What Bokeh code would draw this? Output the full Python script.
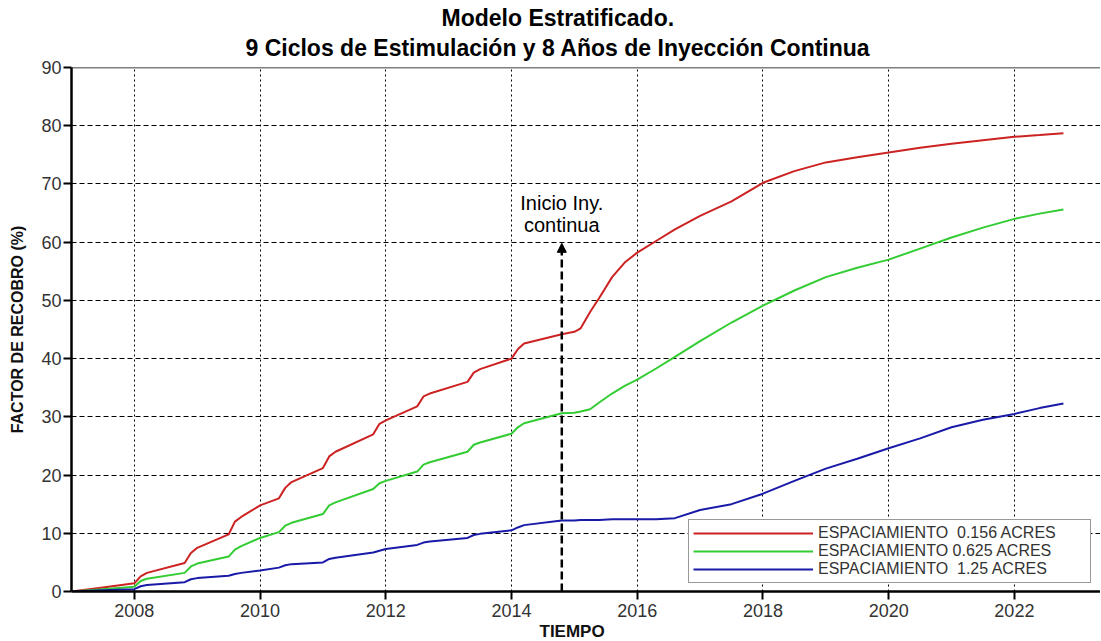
from bokeh.plotting import figure
from bokeh.models import (Range1d, FixedTicker, Span, Label, Arrow, NormalHead,
                          Legend, LegendItem, Title)
from bokeh.embed import file_html
from bokeh.resources import INLINE

# ---- data ----
t = [2007.0, 2007.5, 2008.0, 2008.1, 2008.2, 2008.8, 2008.9, 2009.0, 2009.5, 2009.6,
     2009.7, 2010.0, 2010.3, 2010.4, 2010.5, 2011.0, 2011.1, 2011.2, 2011.8, 2011.9,
     2012.0, 2012.5, 2012.6, 2012.7, 2013.3, 2013.4, 2013.5, 2014.0, 2014.1, 2014.2,
     2014.8, 2015.0, 2015.1, 2015.25, 2015.4, 2015.6, 2015.8, 2016.0, 2016.3, 2016.6,
     2017.0, 2017.5, 2018.0, 2018.5, 2019.0, 2019.5, 2020.0, 2020.5, 2021.0, 2021.5,
     2022.0, 2022.4, 2022.78]
fr_0156 = [0, 0.7, 1.4, 2.6, 3.2, 4.9, 6.6, 7.5, 9.8, 12.0,
           12.8, 14.8, 16.0, 17.8, 18.8, 21.2, 23.2, 24.0, 27.0, 28.8,
           29.4, 31.8, 33.5, 34.0, 36.0, 37.6, 38.2, 40.0, 41.6, 42.6,
           44.2, 44.6, 45.2, 48.0, 50.5, 54.0, 56.5, 58.2, 60.2, 62.2,
           64.5, 67.0, 70.2, 72.2, 73.7, 74.6, 75.4, 76.2, 76.9, 77.5,
           78.1, 78.4, 78.7]
fr_0625 = [0, 0.4, 0.8, 1.8, 2.2, 3.2, 4.3, 4.8, 6.0, 7.2,
           7.8, 9.2, 10.2, 11.3, 11.8, 13.3, 14.8, 15.3, 17.6, 18.6,
           19.0, 20.6, 21.8, 22.2, 24.0, 25.2, 25.6, 27.1, 28.2, 28.9,
           30.6, 30.7, 30.9, 31.3, 32.5, 34.0, 35.3, 36.4, 38.3, 40.3,
           43.0, 46.2, 49.1, 51.7, 54.0, 55.6, 57.0, 58.9, 60.8, 62.5,
           64.0, 64.9, 65.6]
fr_125 = [0, 0.2, 0.4, 0.9, 1.1, 1.6, 2.1, 2.3, 2.7, 3.0,
          3.2, 3.6, 4.1, 4.5, 4.7, 5.0, 5.6, 5.8, 6.7, 7.0,
          7.3, 8.0, 8.4, 8.6, 9.2, 9.7, 9.9, 10.5, 11.0, 11.4,
          12.2, 12.2, 12.3, 12.3, 12.3, 12.4, 12.4, 12.4, 12.4, 12.6,
          14.0, 15.0, 16.8, 19.0, 21.1, 22.8, 24.6, 26.3, 28.2, 29.5,
          30.5, 31.5, 32.3]
series_labels = ["ESPACIAMIENTO  0.156 ACRES", "ESPACIAMIENTO 0.625 ACRES",
                 "ESPACIAMIENTO  1.25 ACRES"]
x_ticks = [2008, 2010, 2012, 2014, 2016, 2018, 2020, 2022]
y_ticks = [0, 10, 20, 30, 40, 50, 60, 70, 80, 90]
title_lines = ["Modelo Estratificado.",
               "9 Ciclos de Estimulación y 8 Años de Inyección Continua"]
x_label = "TIEMPO"
y_label = "FACTOR DE RECOBRO (%)"
annot_lines = ["Inicio Iny.", "continua"]
inj_start = 2014.8
arrow_top = 59.8

FONT = "Liberation Sans"

p = figure(width=1100, height=640, output_backend="svg", toolbar_location=None,
           x_range=Range1d(2007, 2023.37), y_range=Range1d(0, 90),
           min_border_left=71, min_border_right=0, min_border_top=67,
           min_border_bottom=49)
p.outline_line_color = None
p.background_fill_color = "white"
p.border_fill_color = "white"

for ax in (p.xaxis[0], p.yaxis[0]):
    ax.axis_line_width = 2.5
    ax.axis_line_color = "black"
    ax.major_tick_in = 0
    ax.major_tick_out = 8
    ax.major_tick_line_width = 2
    ax.major_tick_line_color = "black"
    ax.minor_tick_line_color = None
    ax.major_label_text_font = FONT
    ax.major_label_text_font_size = "18px"
    ax.major_label_text_color = "#333333"

p.xaxis.ticker = FixedTicker(ticks=x_ticks)
p.yaxis.ticker = FixedTicker(ticks=y_ticks)
p.xaxis.major_label_standoff = 4
p.yaxis.major_label_standoff = 2

p.yaxis.axis_label = y_label
p.yaxis.axis_label_text_font = FONT
p.yaxis.axis_label_text_font_style = "bold"
p.yaxis.axis_label_text_font_size = "16px"
p.yaxis.axis_label_text_color = "#111111"
p.yaxis.axis_label_standoff = 12

p.xgrid.grid_line_color = "black"
p.xgrid.grid_line_dash = "2 3"
p.xgrid.grid_line_width = 1
p.ygrid.grid_line_color = "black"
p.ygrid.grid_line_dash = "5 3"
p.ygrid.grid_line_width = 1

p.add_layout(Span(location=90, dimension="width", line_color="black", line_width=1.5))

colors = ["#cc2222", "#33cc33", "#1a1aa8"]
renderers = []
for ys, c in zip([fr_0156, fr_0625, fr_125], colors):
    r = p.line(t, ys, line_color=c, line_width=2)
    renderers.append(r)

legend = Legend(items=[LegendItem(label=lab, renderers=[r])
                       for lab, r in zip(series_labels, renderers)],
                location=(617, 8))
legend.glyph_width = 120
legend.glyph_height = 16
legend.label_height = 16
legend.label_width = 268
legend.spacing = 0
legend.padding = 4
legend.margin = 0
legend.label_standoff = 5
legend.label_text_font = FONT
legend.label_text_font_size = "16px"
legend.label_text_color = "#333333"
legend.border_line_color = "#333333"
legend.border_line_width = 1
legend.background_fill_color = "white"
legend.background_fill_alpha = 1
p.add_layout(legend)

p.add_layout(Arrow(x_start=inj_start, y_start=0, x_end=inj_start, y_end=arrow_top,
                   line_color="black", line_width=2.5, line_dash="8 4",
                   end=NormalHead(size=9, fill_color="black", line_color="black")))

p.add_layout(Label(x=inj_start, y=66.8, text=annot_lines[0], text_align="center",
                   text_baseline="middle", text_font=FONT, text_font_size="20px",
                   text_color="black"))
p.add_layout(Label(x=inj_start, y=62.9, text=annot_lines[1], text_align="center",
                   text_baseline="middle", text_font=FONT, text_font_size="20px",
                   text_color="black"))

# titles (the one added first sits closest to the frame)
p.add_layout(Title(text=title_lines[1], align="left", offset=174, standoff=13,
                   text_font=FONT, text_font_size="23px", text_font_style="bold",
                   text_color="black"), "above")
p.add_layout(Title(text=title_lines[0], align="left", offset=370, standoff=-9,
                   text_font=FONT, text_font_size="23px", text_font_style="bold",
                   text_color="black"), "above")
p.add_layout(Title(text=x_label, align="left", offset=468, standoff=0,
                   text_font=FONT, text_font_size="17px", text_font_style="bold",
                   text_color="#111111"), "below")

open("out.html", "w").write(file_html(p, INLINE))
